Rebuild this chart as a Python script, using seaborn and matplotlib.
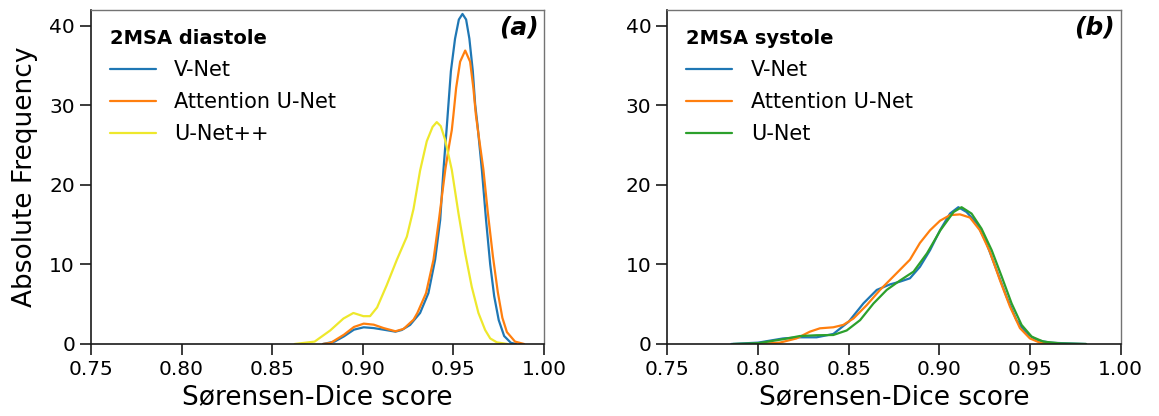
import matplotlib
matplotlib.use('Agg')
import matplotlib.pyplot as plt
import seaborn as sns

# Curve points (score, absolute frequency)
dia_vnet_x = [0.878, 0.8844, 0.8896, 0.8951, 0.9005, 0.906, 0.9115, 0.918, 0.9215, 0.9261, 0.9316,
              0.9362, 0.9399, 0.9427, 0.9445, 0.9464, 0.9486, 0.9509, 0.953, 0.955, 0.957, 0.9588,
              0.9607, 0.962, 0.9633, 0.9657, 0.968, 0.9703, 0.9725, 0.975, 0.978, 0.9817, 0.9845]
dia_vnet_y = [0, 0.3, 0.96, 1.8, 2.1, 2.0, 1.8, 1.55, 1.76, 2.4, 3.9,
              6.4, 10.6, 15.6, 21.9, 27.5, 34.3, 38.4, 40.8, 41.5, 40.8, 38.4,
              34.3, 30.1, 27.5, 21.9, 15.6, 10.0, 6.0, 3.0, 1.0, 0.15, 0]
dia_att_x = [0.878, 0.8822, 0.8896, 0.8951, 0.9005, 0.906, 0.9115, 0.918, 0.9225, 0.928, 0.9301,
             0.9349, 0.939, 0.942, 0.9455, 0.9475, 0.9491, 0.95, 0.9515, 0.9537, 0.9565, 0.9592,
             0.961, 0.9624, 0.9635, 0.9665, 0.969, 0.9718, 0.9745, 0.977, 0.9795, 0.984, 0.989]
dia_att_y = [0, 0.13, 1.17, 2.14, 2.56, 2.43, 2.0, 1.6, 1.9, 3.06, 3.9,
             6.4, 10.6, 15.6, 21.9, 24.8, 26.9, 28.8, 32.2, 35.5, 36.9, 35.5,
             32.2, 28.8, 26.9, 22.0, 16.5, 11.0, 6.5, 3.3, 1.5, 0.3, 0]
dia_unetpp_x = [0.8624, 0.8734, 0.882, 0.8893, 0.8948, 0.9003, 0.904, 0.9079, 0.9132, 0.9188,
                0.9243, 0.928, 0.9316, 0.9353, 0.9385, 0.9408, 0.943, 0.9454, 0.9491, 0.9528,
                0.9565, 0.9601, 0.9638, 0.9675, 0.9703, 0.974, 0.9798]
dia_unetpp_y = [0, 0.3, 1.7, 3.2, 3.9, 3.5, 3.5, 4.6, 7.4, 10.6,
                13.5, 17.0, 21.8, 25.5, 27.3, 27.9, 27.4, 25.7, 21.9, 16.4,
                11.4, 7.2, 3.9, 1.76, 0.7, 0.2, 0]

sys_vnet_x = [0.7852, 0.80, 0.8138, 0.823, 0.8323, 0.8415, 0.85, 0.8581, 0.8655, 0.8729, 0.8783,
              0.8838, 0.8893, 0.8949, 0.9004, 0.9059, 0.9105, 0.915, 0.9206, 0.926, 0.9316,
              0.9371, 0.9426, 0.948, 0.9537, 0.961, 0.9702, 0.981]
sys_vnet_y = [0.0, 0.17, 0.7, 0.84, 0.84, 1.26, 2.8, 5.1, 6.8, 7.5, 7.84,
              8.26, 9.7, 11.8, 14.3, 16.4, 17.2, 16.6, 15.2, 12.7, 9.3,
              5.95, 3.0, 1.34, 0.5, 0.17, 0.08, 0.0]
sys_att_x = [0.80, 0.812, 0.8212, 0.8286, 0.8341, 0.8415, 0.847, 0.8526, 0.86, 0.8673, 0.8747,
             0.8838, 0.8893, 0.8949, 0.9004, 0.9059, 0.9114, 0.9169, 0.9224, 0.9279, 0.9335,
             0.939, 0.9445, 0.95, 0.9555, 0.961]
sys_att_y = [0, 0.17, 0.7, 1.55, 1.97, 2.1, 2.4, 3.2, 4.9, 6.8, 8.5,
             10.6, 12.7, 14.3, 15.5, 16.2, 16.3, 15.9, 14.3, 11.6, 8.0,
             4.7, 2.0, 0.7, 0.17, 0]
sys_unet_x = [0.7862, 0.80, 0.8138, 0.823, 0.8323, 0.8415, 0.8489, 0.8563, 0.8637, 0.871, 0.8784,
              0.8858, 0.8932, 0.9006, 0.9079, 0.9123, 0.9178, 0.9233, 0.9289, 0.9344, 0.9399,
              0.9454, 0.951, 0.9574, 0.9665, 0.981]
sys_unet_y = [0, 0.1, 0.6, 1.0, 1.1, 1.13, 1.7, 3.0, 5.1, 6.8, 8.0,
              9.1, 11.4, 14.3, 16.6, 17.2, 16.4, 14.5, 11.8, 8.5, 5.1,
              2.4, 0.92, 0.3, 0.08, 0]

x_ticks = [0.75, 0.80, 0.85, 0.90, 0.95, 1.00]
y_ticks = [0, 10, 20, 30, 40]

sns.set_theme(style='ticks')
plt.rcParams['font.family'] = ['DejaVu Sans']
plt.rcParams['text.color'] = 'black'
plt.rcParams['axes.labelcolor'] = 'black'
plt.rcParams['xtick.color'] = 'black'
plt.rcParams['ytick.color'] = 'black'

fig = plt.figure(figsize=(11.59, 4.16), dpi=100)
ax1 = fig.add_axes([0.0785, 0.1731, 0.3909, 0.8029])
ax2 = fig.add_axes([0.5759, 0.1731, 0.3909, 0.8029])

panels = [
    (ax1, '2MSA diastole', '(a)', [
        (dia_vnet_x, dia_vnet_y, 'V-Net', '#1f77b4'),
        (dia_att_x, dia_att_y, 'Attention U-Net', '#ff7f0e'),
        (dia_unetpp_x, dia_unetpp_y, 'U-Net++', '#eee82c'),
    ]),
    (ax2, '2MSA systole', '(b)', [
        (sys_vnet_x, sys_vnet_y, 'V-Net', '#1f77b4'),
        (sys_att_x, sys_att_y, 'Attention U-Net', '#ff7f0e'),
        (sys_unet_x, sys_unet_y, 'U-Net', '#2ca02c'),
    ]),
]

for ax, title, tag, curves in panels:
    for xs, ys, name, col in curves:
        sns.lineplot(x=xs, y=ys, ax=ax, label=name, color=col, linewidth=1.6)
    ax.set_xlim(0.75, 1.0)
    ax.set_ylim(0, 42)
    ax.set_xticks(x_ticks)
    ax.set_xticklabels([f'{t:.2f}' for t in x_ticks])
    ax.set_yticks(y_ticks)
    ax.tick_params(axis='both', direction='out', length=8, width=1.2, labelsize=14.5, color='0.1')
    ax.set_xlabel('Sørensen-Dice score', fontsize=19)
    for s in ['top', 'right']:
        ax.spines[s].set_color('0.45')
        ax.spines[s].set_linewidth(1.0)
    for s in ['left', 'bottom']:
        ax.spines[s].set_color('0.1')
        ax.spines[s].set_linewidth(1.2)
    leg = ax.legend(title=title, loc='upper left', frameon=False, fontsize=15,
                    title_fontproperties={'weight': 'bold', 'size': 14},
                    alignment='left', handlelength=2.2, handletextpad=0.9,
                    labelspacing=0.58)
    ax.text(0.988, 0.982, tag, transform=ax.transAxes, ha='right', va='top',
            fontsize=18, fontweight='bold', fontstyle='italic')

ax1.set_ylabel('Absolute Frequency', fontsize=19, labelpad=8)
ax2.set_ylabel('')

fig.savefig('out.png', dpi=100)
